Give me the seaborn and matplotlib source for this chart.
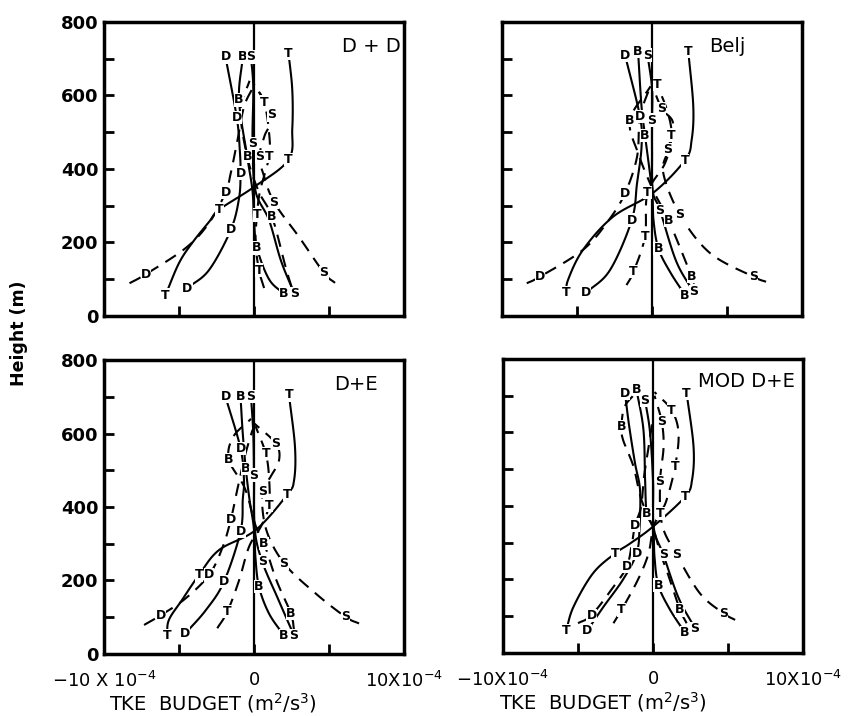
import numpy as np
import matplotlib
matplotlib.use("Agg")
import matplotlib.pyplot as plt
import seaborn as sns

sns.set_style("ticks")
plt.rcParams['font.family'] = ['DejaVu Sans']
plt.rcParams['text.color'] = 'black'
plt.rcParams['axes.edgecolor'] = 'black'
plt.rcParams['xtick.color'] = 'black'
plt.rcParams['ytick.color'] = 'black'
plt.rcParams['axes.labelcolor'] = 'black'

# TKE budget profiles, values in 1e-4 m2/s3, heights in m
# sol = solid curves, dsh = dashed curves; *_lab marks which points carry a letter

# ---- D + D ----
dd_sol_T_h = [57, 144, 200, 256, 290, 351, 425, 510, 615, 715]
dd_sol_T_x = [-5.9, -5.0, -4.1, -3.0, -2.3, 0.0, 2.3, 2.55, 2.55, 2.3]
dd_sol_T_lab = "T...T.T..T"
dd_sol_D_h = [76, 125, 234, 320, 389, 452, 540, 705]
dd_sol_D_x = [-4.45, -3.0, -1.55, -1.0, -0.9, -0.95, -1.15, -1.9]
dd_sol_D_lab = "D.D.D.DD"
dd_sol_B_h = [60, 100, 185, 260, 340, 433, 588, 705]
dd_sol_B_x = [2.0, 1.0, 0.2, 0.0, -0.1, -0.45, -1.0, -0.75]
dd_sol_B_lab = "B.B..BBB"
dd_sol_S_h = [60, 150, 261, 340, 470, 620, 705]
dd_sol_S_x = [2.7, 1.8, 1.0, 0.1, -0.1, -0.05, -0.2]
dd_sol_S_lab = "S...S.S"
dd_dsh_D_h = [89, 114, 185, 253, 336, 389, 479, 569, 620]
dd_dsh_D_x = [-8.3, -7.2, -4.55, -3.0, -1.9, -1.55, -1.1, -0.67, -0.1]
dd_dsh_D_lab = ".D..D...."
dd_dsh_S_h = [90, 117, 215, 310, 389, 433, 490, 547, 630]
dd_dsh_S_x = [5.4, 4.67, 3.0, 1.33, 0.6, 0.35, 0.7, 1.2, 0.0]
dd_dsh_S_lab = ".S.S.S.S."
dd_dsh_T_h = [76, 125, 200, 275, 340, 433, 500, 582, 630]
dd_dsh_T_x = [0.67, 0.33, 0.1, 0.2, 0.4, 1.0, 1.0, 0.67, 0.0]
dd_dsh_T_lab = ".T.T.T.T."
dd_dsh_B_h = [79, 134, 270, 340, 433, 560, 640]
dd_dsh_B_x = [2.5, 2.1, 1.2, 0.3, -0.45, -0.9, -0.3]
dd_dsh_B_lab = "..B...."

# ---- Belj ----
bj_sol_T_h = [63, 98, 180, 270, 335, 424, 479, 570, 719]
bj_sol_T_x = [-5.7, -5.6, -4.6, -2.6, 0.07, 2.2, 2.64, 2.75, 2.42]
bj_sol_T_lab = "T....T..T"
bj_sol_D_h = [63, 125, 261, 361, 460, 542, 710]
bj_sol_D_x = [-4.4, -2.8, -1.35, -1.0, -0.7, -0.8, -1.8]
bj_sol_D_lab = "D.D..DD"
bj_sol_B_h = [57, 120, 184, 260, 340, 492, 570, 719]
bj_sol_B_x = [2.2, 1.2, 0.42, 0.1, 0.0, -0.47, -0.7, -0.93]
bj_sol_B_lab = "B.B..B.B"
bj_sol_S_h = [66, 150, 288, 340, 450, 533, 620, 710]
bj_sol_S_x = [2.75, 1.6, 0.53, 0.05, 0.0, 0.0, 0.0, -0.3]
bj_sol_S_lab = "S.S..S.S"
bj_dsh_D_h = [89, 107, 180, 260, 334, 433, 542, 624]
bj_dsh_D_x = [-8.35, -7.47, -4.6, -2.9, -1.8, -1.0, -0.8, -0.13]
bj_dsh_D_lab = ".D..D..."
bj_dsh_S_h = [93, 107, 171, 275, 389, 452, 525, 565, 629]
bj_dsh_S_x = [7.6, 6.75, 3.87, 1.87, 0.75, 1.07, 1.4, 0.64, 0.0]
bj_dsh_S_lab = ".S.S.S.S."
bj_dsh_T_h = [84, 120, 216, 335, 416, 492, 560, 629]
bj_dsh_T_x = [-1.7, -1.24, -0.47, -0.3, 0.87, 1.3, 1.0, 0.33]
bj_dsh_T_lab = ".TTT.T.T"
bj_dsh_B_h = [90, 107, 261, 340, 440, 533, 625]
bj_dsh_B_x = [2.75, 2.64, 1.1, 0.1, -0.9, -1.47, -0.1]
bj_dsh_B_lab = ".BB..B."

# ---- D + E ----
de_sol_T_h = [50, 93, 147, 215, 283, 337, 433, 473, 564, 705]
de_sol_T_x = [-5.8, -5.67, -4.8, -3.67, -2.33, 0.1, 2.2, 2.67, 2.73, 2.33]
de_sol_T_lab = "T..T..T..T"
de_sol_D_h = [55, 120, 197, 333, 420, 473, 560, 700]
de_sol_D_x = [-4.6, -3.2, -2.0, -0.9, -0.75, -0.67, -0.9, -1.9]
de_sol_D_lab = "D.DD..DD"
de_sol_B_h = [50, 110, 183, 260, 340, 420, 505, 600, 700]
de_sol_B_x = [2.0, 1.0, 0.33, 0.1, 0.0, -0.3, -0.55, -0.75, -0.9]
de_sol_B_lab = "B.B...B.B"
de_sol_S_h = [50, 150, 251, 340, 487, 600, 700]
de_sol_S_x = [2.67, 1.6, 0.55, 0.05, 0.0, -0.05, -0.2]
de_sol_S_lab = "S.S.S.S"
de_dsh_D_h = [79, 106, 150, 215, 290, 365, 450, 540, 610]
de_dsh_D_x = [-7.33, -6.2, -4.6, -3.0, -2.1, -1.55, -1.1, -0.6, -0.1]
de_dsh_D_lab = ".D.D.D..."
de_dsh_S_h = [83, 101, 165, 247, 340, 442, 482, 528, 573, 628]
de_dsh_S_x = [7.0, 6.1, 4.1, 2.0, 0.8, 0.55, 1.1, 1.67, 1.45, 0.0]
de_dsh_S_lab = ".S.S.S..S."
de_dsh_T_h = [70, 115, 200, 292, 350, 405, 480, 546, 620]
de_dsh_T_x = [-2.45, -1.78, -1.0, -0.33, 0.5, 1.0, 1.0, 0.78, 0.1]
de_dsh_T_lab = ".T...T.T."
de_dsh_B_h = [65, 111, 200, 301, 350, 450, 528, 590, 640]
de_dsh_B_x = [2.67, 2.45, 1.5, 0.67, 0.1, -0.6, -1.67, -1.4, -0.2]
de_dsh_B_lab = ".B.B..B.."

# ---- MOD D + E ----
md_sol_T_h = [60, 126, 217, 271, 298, 344, 425, 471, 561, 707]
md_sol_T_x = [-5.8, -5.3, -4.0, -2.53, -1.53, 0.0, 2.13, 2.6, 2.7, 2.24]
md_sol_T_lab = "T..T..T..T"
md_sol_D_h = [60, 126, 200, 271, 340, 444, 516, 620, 707]
md_sol_D_x = [-4.4, -3.3, -2.0, -1.1, -0.9, -0.87, -1.2, -1.6, -1.87]
md_sol_D_lab = "D..D....D"
md_sol_B_h = [55, 120, 185, 260, 340, 380, 471, 607, 716]
md_sol_B_x = [2.13, 1.1, 0.35, 0.1, 0.0, -0.42, -0.53, -0.64, -1.1]
md_sol_B_lab = "B.B..B..B"
md_sol_S_h = [67, 150, 267, 340, 466, 600, 688]
md_sol_S_x = [2.8, 1.7, 0.69, 0.05, 0.0, -0.2, -0.53]
md_sol_S_lab = "S.S...S"
md_dsh_D_h = [81, 103, 180, 235, 300, 348, 398, 480, 560, 640]
md_dsh_D_x = [-5.0, -4.1, -2.64, -1.75, -1.4, -1.2, -0.8, -0.6, -0.3, 0.0]
md_dsh_D_lab = ".D.D.D...."
md_dsh_S_h = [90, 108, 162, 267, 350, 466, 560, 629, 700]
md_dsh_S_x = [5.47, 4.7, 3.13, 1.58, 0.6, 0.47, 0.7, 0.58, 0.1]
md_dsh_S_lab = ".S.S.S.S."
md_dsh_T_h = [81, 117, 200, 271, 340, 380, 416, 507, 598, 661, 710]
md_dsh_T_x = [-2.64, -2.1, -1.0, -0.3, 0.0, 0.47, 0.9, 1.47, 1.7, 1.24, 0.1]
md_dsh_T_lab = ".T...T.T.T."
md_dsh_B_h = [81, 117, 199, 270, 340, 420, 507, 580, 616, 670, 710]
md_dsh_B_x = [2.24, 1.8, 1.13, 0.5, 0.0, -0.8, -1.3, -2.0, -2.1, -1.9, -1.1]
md_dsh_B_lab = ".B......B.."

panels = [("dd", "D + D"), ("bj", "Belj"), ("de", "D+E"), ("md", "MOD D+E")]
terms = ["D", "B", "S", "T"]
title_pos = [(0.89, 0.915), (0.75, 0.915), (0.84, 0.915), (0.81, 0.925)]
xlabel_x = [None, None, 0.363, 0.333]

axes_rects = [
    [0.1225, 0.5587, 0.3534, 0.4106],
    [0.5913, 0.5587, 0.3534, 0.4106],
    [0.1225, 0.0866, 0.3534, 0.4106],
    [0.5925, 0.0880, 0.3534, 0.4106],
]


def smooth(h, x, n=14):
    # Catmull-Rom through the read points
    p = np.column_stack([x, h]).astype(float)
    p = np.vstack([2 * p[0] - p[1], p, 2 * p[-1] - p[-2]])
    t = np.linspace(0, 1, n, endpoint=False)[:, None]
    out = []
    for i in range(1, len(p) - 2):
        p0, p1, p2, p3 = p[i - 1], p[i], p[i + 1], p[i + 2]
        seg = 0.5 * (2 * p1 + (-p0 + p2) * t + (2 * p0 - 5 * p1 + 4 * p2 - p3) * t ** 2
                     + (-p0 + 3 * p1 - 3 * p2 + p3) * t ** 3)
        out.append(seg)
    out.append(p[-2][None])
    out = np.vstack(out)
    return out[:, 0], out[:, 1]


fig = plt.figure(figsize=(8.49, 7.16), dpi=100)

for k, (key, name) in enumerate(panels):
    ax = fig.add_axes(axes_rects[k])
    ax.axvline(0, color="black", lw=1.6, zorder=1)

    for style in ["sol", "dsh"]:
        for t in terms:
            h = globals()[f"{key}_{style}_{t}_h"]
            x = globals()[f"{key}_{style}_{t}_x"]
            lab = globals()[f"{key}_{style}_{t}_lab"]
            xs, hs = smooth(h, x)
            sns.lineplot(x=xs, y=hs, sort=False, estimator=None, color="black",
                         lw=1.5, ax=ax, zorder=2)
            if style == "dsh":
                ax.lines[-1].set_dashes([6, 4])
            for xi, hi, c in zip(x, h, lab):
                if c != ".":
                    ax.text(xi, hi, c, ha="center", va="center", fontsize=9,
                            fontweight="bold", zorder=5,
                            bbox=dict(fc="white", ec="none", pad=0.05))

    ax.set_xlim(-10, 10)
    ax.set_ylim(0, 800)
    ax.set_xlabel("")
    ax.set_ylabel("")
    for sp in ax.spines.values():
        sp.set_linewidth(2.5)
        sp.set_color("black")

    ax.set_yticks(range(0, 801, 100))
    if k % 2 == 0:
        ax.set_yticklabels(["0", "", "200", "", "400", "", "600", "", "800"],
                           fontsize=13, fontweight="bold")
    else:
        ax.set_yticklabels([])
    ax.set_xticks([-10, -5, 0, 5, 10])
    if k >= 2:
        ax.set_xticklabels([r"$-$10 X 10$^{-4}$" if k == 2 else r"$-$10X10$^{-4}$",
                            "", "0", "", "10X10$^{-4}$"], fontsize=13)
        ax.set_xlabel("TKE  BUDGET (m$^2$/s$^3$)", fontsize=14)
        ax.xaxis.set_label_coords(xlabel_x[k], -0.125)
    else:
        ax.set_xticklabels([])
    ax.tick_params(axis="y", direction="in", length=7, width=2, pad=4, right=False)
    ax.tick_params(axis="x", direction="in", length=7, width=2, pad=12, top=False)

    ax.text(title_pos[k][0], title_pos[k][1], name, transform=ax.transAxes,
            ha="center", va="center", fontsize=14)

fig.text(0.022, 0.535, "Height (m)", rotation=90, ha="center", va="center",
         fontsize=12.5, fontweight="bold")

fig.savefig("out.png", dpi=100)
